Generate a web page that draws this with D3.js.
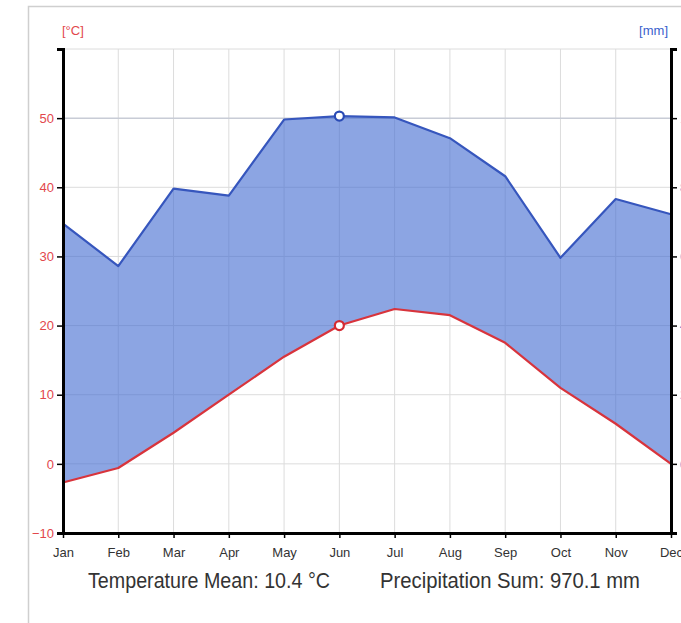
<!DOCTYPE html>
<html><head><meta charset="utf-8">
<script src="https://cdn.jsdelivr.net/npm/d3@7"></script>
<style>
html,body{margin:0;padding:0;background:#fff;overflow:hidden;}
svg{display:block;font-family:"Liberation Sans",Arial,sans-serif;}
</style></head>
<body><svg id="c" width="681" height="623"></svg>
<script>
const months = ["Jan","Feb","Mar","Apr","May","Jun","Jul","Aug","Sep","Oct","Nov","Dec"];
const temperature = [-2.7,-0.6,4.5,10.0,15.5,20.0,22.4,21.5,17.5,11.0,5.8,0.0];
const precipitation = [69.5,57.2,79.6,77.6,99.6,100.6,100.2,94.2,83.2,59.6,76.6,72.2];
const tempTicks = [-10,0,10,20,30,40,50];
const precTicks = [0,20,40,60,80,100];
const highlightMonth = "Jun";

const svg = d3.select("#c");
const L = 63, R = 671, T = 49, B = 533;

// outer frame
svg.append("path").attr("d","M28.5,623 V6.5 H681").attr("fill","none").attr("stroke","#cfcfcf").attr("stroke-width",1.5);

const x = d3.scalePoint().domain(months).range([L,R]);
const y = d3.scaleLinear().domain([-10,60]).range([B,T]);
const yp = d3.scaleLinear().domain([-20,120]).range([B,T]);

// grid
const g = svg.append("g");
g.selectAll(".vg").data(months).join("line")
  .attr("x1",d=>x(d)).attr("x2",d=>x(d)).attr("y1",T).attr("y2",B)
  .attr("stroke","#dcdcdc").attr("stroke-width",1);
g.selectAll(".hg").data(tempTicks.concat([60])).join("line")
  .attr("x1",L).attr("x2",R).attr("y1",d=>y(d)).attr("y2",d=>y(d))
  .attr("stroke",d=>d===50?"#c8ccd6":"#dcdcdc").attr("stroke-width",d=>d===50?1.5:1);

const data = months.map((m,i)=>({m, t:temperature[i], p:precipitation[i]}));

// area between
svg.append("path").datum(data)
  .attr("d", d3.area().x(d=>x(d.m)).y0(d=>y(d.t)).y1(d=>yp(d.p)))
  .attr("fill","rgb(70,110,210)").attr("fill-opacity",0.62);

// lines
svg.append("path").datum(data)
  .attr("d", d3.line().x(d=>x(d.m)).y(d=>yp(d.p)))
  .attr("fill","none").attr("stroke","#3656bd").attr("stroke-width",2.2).attr("stroke-linejoin","round");
svg.append("path").datum(data)
  .attr("d", d3.line().x(d=>x(d.m)).y(d=>y(d.t)))
  .attr("fill","none").attr("stroke","#d8343c").attr("stroke-width",2.2).attr("stroke-linejoin","round");

// markers
const hm = data.find(d=>d.m===highlightMonth);
svg.append("circle").attr("cx",x(hm.m)).attr("cy",yp(hm.p)).attr("r",4.5)
  .attr("fill","#fff").attr("stroke","#2a4bb5").attr("stroke-width",2.2);
svg.append("circle").attr("cx",x(hm.m)).attr("cy",y(hm.t)).attr("r",4.5)
  .attr("fill","#fff").attr("stroke","#d42a32").attr("stroke-width",2.2);

// axes
const ax = svg.append("g").attr("transform",`translate(${L},0)`)
  .call(d3.axisLeft(y).tickValues(tempTicks).tickSize(6).tickSizeOuter(6).tickPadding(3));
ax.select(".domain").attr("stroke","#000").attr("stroke-width",3);
ax.selectAll(".tick line").attr("stroke","#000").attr("stroke-width",1.5);
ax.selectAll("text").attr("fill","#e2474c").attr("font-size",13);

const ar = svg.append("g").attr("transform",`translate(${R},0)`)
  .call(d3.axisRight(yp).tickValues(precTicks).tickSize(6).tickSizeOuter(6).tickPadding(3));
ar.select(".domain").attr("stroke","#000").attr("stroke-width",3);
ar.selectAll(".tick line").attr("stroke","#000").attr("stroke-width",1.5);
ar.selectAll("text").attr("fill","#3a5fcd").attr("font-size",13);

const axb = svg.append("g").attr("transform",`translate(0,${B})`)
  .call(d3.axisBottom(x).tickSize(5).tickSizeOuter(0).tickPadding(10));
axb.select(".domain").attr("stroke","#000").attr("stroke-width",3);
axb.selectAll(".tick line").attr("stroke","#000").attr("stroke-width",1.5);
axb.selectAll("text").attr("fill","#333").attr("font-size",13)
  .attr("transform","scale(0.88,1)")
  .attr("x",function(){ return 0; });
axb.selectAll(".tick").each(function(d){
  d3.select(this).select("text").attr("transform",null);
});

// unit labels
svg.append("text").attr("x",62).attr("y",35).attr("fill","#e2474c").attr("font-size",13).text("[°C]");
svg.append("text").attr("x",668).attr("y",35).attr("text-anchor","end").attr("fill","#3a5fcd").attr("font-size",13).text("[mm]");

// summary
const meanT = d3.mean(temperature);
const sumP = d3.sum(precipitation);
svg.append("text").attr("x",88).attr("y",588).attr("fill","#333").attr("font-size",22)
  .attr("textLength",242).attr("lengthAdjust","spacingAndGlyphs")
  .text(`Temperature Mean: ${meanT.toFixed(1)} °C`);
svg.append("text").attr("x",380).attr("y",588).attr("fill","#333").attr("font-size",22)
  .attr("textLength",260).attr("lengthAdjust","spacingAndGlyphs")
  .text(`Precipitation Sum: ${sumP.toFixed(1)} mm`);
</script></body></html>
